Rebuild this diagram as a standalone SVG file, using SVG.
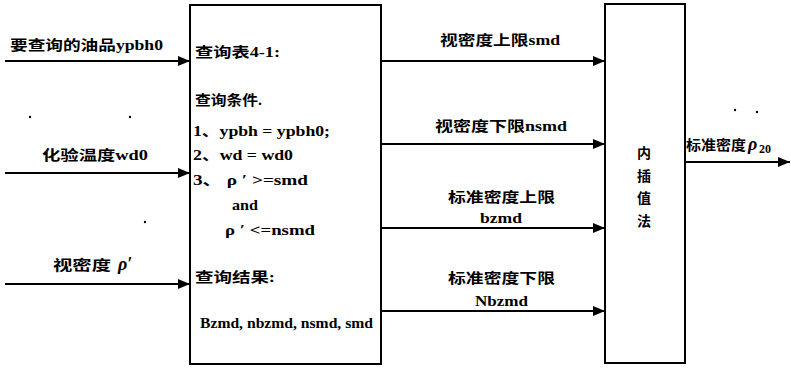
<svg xmlns="http://www.w3.org/2000/svg" width="791" height="368" viewBox="0 0 791 368">
<style>
text{font-family:"Liberation Serif","Noto Sans CJK SC",serif;font-weight:bold;font-size:14px;fill:#000}
.box{fill:#fff;stroke:#000;stroke-width:2}
.conn{stroke:#000;stroke-width:2;fill:none}
</style>
<defs>
<marker id="ah" markerWidth="12" markerHeight="10" refX="12" refY="5" orient="auto" markerUnits="userSpaceOnUse">
<path d="M0,0 L12,5 L0,10 Z" fill="#000"/>
</marker>
</defs>
<rect width="791" height="368" fill="#fff"/>
<g id="connectors">
<line class="conn" x1="5" y1="61" x2="190" y2="61" marker-end="url(#ah)"/>
<line class="conn" x1="5" y1="173" x2="190" y2="173" marker-end="url(#ah)"/>
<line class="conn" x1="5" y1="284" x2="190" y2="284" marker-end="url(#ah)"/>
<line class="conn" x1="381" y1="61" x2="605" y2="61" marker-end="url(#ah)"/>
<line class="conn" x1="381" y1="144" x2="605" y2="144" marker-end="url(#ah)"/>
<line class="conn" x1="381" y1="228" x2="605" y2="228" marker-end="url(#ah)"/>
<line class="conn" x1="381" y1="311" x2="605" y2="311" marker-end="url(#ah)"/>
<line class="conn" x1="685" y1="162" x2="790" y2="162" marker-end="url(#ah)"/>
<text x="10" y="50" textLength="153" lengthAdjust="spacingAndGlyphs">要查询的油品ypbh0</text>
<text x="42" y="160" textLength="106" lengthAdjust="spacingAndGlyphs">化验温度wd0</text>
<text x="53" y="270"><tspan textLength="58" lengthAdjust="spacingAndGlyphs">视密度</tspan><tspan x="118" font-style="italic" font-size="18">ρ′</tspan></text>
<text x="440" y="45" textLength="120" lengthAdjust="spacingAndGlyphs">视密度上限smd</text>
<text x="435" y="131" textLength="132" lengthAdjust="spacingAndGlyphs">视密度下限nsmd</text>
<text x="448" y="202" textLength="107" lengthAdjust="spacingAndGlyphs">标准密度上限</text>
<text x="480" y="223" textLength="42" lengthAdjust="spacingAndGlyphs">bzmd</text>
<text x="448" y="283" textLength="107" lengthAdjust="spacingAndGlyphs">标准密度下限</text>
<text x="475" y="306" textLength="53" lengthAdjust="spacingAndGlyphs">Nbzmd</text>
<text x="686" y="150"><tspan textLength="60" lengthAdjust="spacingAndGlyphs">标准密度</tspan><tspan x="748" font-style="italic" font-size="18">ρ</tspan><tspan x="759" font-size="12" dy="3">20</tspan></text>
</g>
<g id="lookup">
<rect class="box" x="190" y="5" width="191" height="359"/>
<text x="195" y="57" textLength="85" lengthAdjust="spacingAndGlyphs">查询表4-1:</text>
<text x="195" y="105" textLength="67" lengthAdjust="spacingAndGlyphs">查询条件.</text>
<text x="193" y="136" textLength="137" lengthAdjust="spacingAndGlyphs">1、ypbh = ypbh0;</text>
<text x="193" y="160" textLength="100" lengthAdjust="spacingAndGlyphs">2、wd = wd0</text>
<text x="193" y="185" textLength="115" lengthAdjust="spacingAndGlyphs">3、 ρ ′ &gt;=smd</text>
<text x="232" y="210" textLength="26" lengthAdjust="spacingAndGlyphs">and</text>
<text x="225" y="235" textLength="90" lengthAdjust="spacingAndGlyphs">ρ ′ &lt;=nsmd</text>
<text x="195" y="282" textLength="80" lengthAdjust="spacingAndGlyphs">查询结果:</text>
<text x="200" y="328" textLength="173" lengthAdjust="spacingAndGlyphs">Bzmd, nbzmd, nsmd, smd</text>
</g>
<g id="interp">
<rect class="box" x="605" y="4" width="80" height="359"/>
<text x="644" y="158" text-anchor="middle">内</text>
<text x="644" y="181" text-anchor="middle">插</text>
<text x="644" y="203" text-anchor="middle">值</text>
<text x="644" y="226" text-anchor="middle">法</text>
</g>
<g id="specks" fill="#000">
<circle cx="30" cy="117" r="1.2"/>
<circle cx="130" cy="117" r="1.2"/>
<circle cx="145" cy="222" r="1.2"/>
<circle cx="735" cy="110" r="1.2"/>
<circle cx="757" cy="112" r="1.2"/>
</g>
</svg>
